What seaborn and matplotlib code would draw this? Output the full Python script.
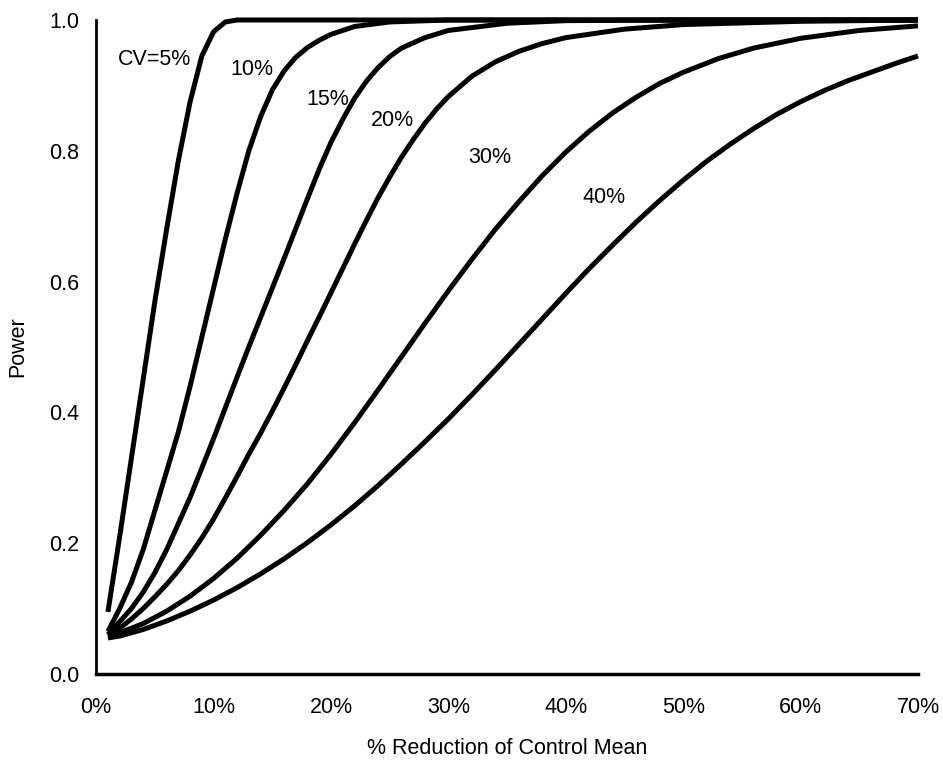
import pandas as pd
import numpy as np
import matplotlib
matplotlib.use("Agg")
import matplotlib.pyplot as plt
import seaborn as sns

# Power curves: x = % reduction of control mean
cv5_x = [1, 2, 3, 4, 5, 6, 7, 8, 9, 10, 11, 12, 15, 20, 30, 40, 50, 60, 70]
cv5_y = [0.095, 0.21, 0.33, 0.45, 0.57, 0.68, 0.785, 0.875, 0.945, 0.982, 0.997, 1.0,
         1.0, 1.0, 1.0, 1.0, 1.0, 1.0, 1.0]

cv10_x = [1, 2, 3, 4, 5, 6, 7, 8, 9, 10, 11, 12, 13, 14, 15, 16, 17, 18, 19, 20, 22, 25,
          30, 40, 50, 60, 70]
cv10_y = [0.065, 0.10, 0.14, 0.19, 0.25, 0.31, 0.37, 0.44, 0.515, 0.59, 0.665, 0.735,
          0.80, 0.852, 0.893, 0.922, 0.943, 0.958, 0.969, 0.978, 0.99, 0.997, 1.0, 1.0,
          1.0, 1.0, 1.0]

cv15_x = [1, 2, 3, 4, 5, 6, 7, 8, 9, 10, 11, 12, 13, 14, 15, 16, 17, 18, 19, 20, 21, 22,
          23, 24, 25, 26, 28, 30, 35, 40, 50, 60, 70]
cv15_y = [0.06, 0.08, 0.10, 0.125, 0.155, 0.19, 0.23, 0.27, 0.315, 0.36, 0.407, 0.454,
          0.5, 0.545, 0.59, 0.635, 0.681, 0.727, 0.772, 0.813, 0.848, 0.88, 0.906, 0.927,
          0.944, 0.957, 0.973, 0.984, 0.995, 0.999, 1.0, 1.0, 1.0]

cv20_x = [1, 2, 3, 4, 5, 6, 7, 8, 9, 10, 11, 12, 13, 14, 15, 16, 17, 18, 19, 20, 21, 22,
          23, 24, 25, 26, 27, 28, 29, 30, 32, 34, 36, 38, 40, 45, 50, 60, 70]
cv20_y = [0.06, 0.07, 0.084, 0.1, 0.118, 0.137, 0.158, 0.182, 0.208, 0.237, 0.269, 0.302,
          0.336, 0.368, 0.402, 0.437, 0.473, 0.51, 0.546, 0.583, 0.62, 0.657, 0.693, 0.728,
          0.76, 0.79, 0.817, 0.842, 0.864, 0.883, 0.914, 0.936, 0.952, 0.964, 0.973,
          0.986, 0.993, 0.998, 1.0]

cv30_x = [1, 2, 4, 6, 8, 10, 12, 14, 16, 18, 20, 22, 24, 26, 28, 30, 32, 34, 36, 38, 40,
          42, 44, 46, 48, 50, 53, 56, 60, 65, 70]
cv30_y = [0.058, 0.063, 0.077, 0.096, 0.119, 0.146, 0.177, 0.212, 0.25, 0.291, 0.336,
          0.384, 0.434, 0.485, 0.536, 0.586, 0.634, 0.68, 0.722, 0.762, 0.798, 0.83,
          0.858, 0.882, 0.903, 0.92, 0.941, 0.957, 0.972, 0.984, 0.991]

cv40_x = [1, 2, 4, 6, 8, 10, 12, 14, 16, 18, 20, 22, 24, 26, 28, 30, 32, 34, 36, 38, 40,
          42, 44, 46, 48, 50, 52, 54, 56, 58, 60, 62, 64, 66, 68, 70]
cv40_y = [0.055, 0.058, 0.068, 0.081, 0.096, 0.113, 0.132, 0.153, 0.176, 0.201, 0.228,
          0.257, 0.288, 0.321, 0.355, 0.39, 0.427, 0.465, 0.504, 0.543, 0.582, 0.62,
          0.656, 0.691, 0.724, 0.755, 0.784, 0.81, 0.834, 0.856, 0.875, 0.892, 0.907,
          0.92, 0.933, 0.945]

cv_names = ["5%", "10%", "15%", "20%", "30%", "40%"]
curve_x = [cv5_x, cv10_x, cv15_x, cv20_x, cv30_x, cv40_x]
curve_y = [cv5_y, cv10_y, cv15_y, cv20_y, cv30_y, cv40_y]

label_text = ["CV=5%", "10%", "15%", "20%", "30%", "40%"]
label_x = [5.0, 13.3, 19.7, 25.2, 33.5, 43.3]
label_y = [0.939, 0.924, 0.878, 0.847, 0.789, 0.728]

df = pd.concat(
    [pd.DataFrame({"reduction": x, "power": y, "cv": name})
     for name, x, y in zip(cv_names, curve_x, curve_y)],
    ignore_index=True,
)

sns.set_style("white")
plt.rcParams["font.family"] = ["Liberation Sans", "DejaVu Sans"]
plt.rcParams["text.color"] = "black"
plt.rcParams["axes.labelcolor"] = "black"
plt.rcParams["xtick.color"] = "black"
plt.rcParams["ytick.color"] = "black"

FS = 15.5

fig = plt.figure(figsize=(9.43, 7.60), dpi=100)
ax = fig.add_axes([0.102, 0.1132, 0.8715, 0.8605])

sns.lineplot(data=df, x="reduction", y="power", hue="cv", units="cv", estimator=None,
             palette=["black"] * len(cv_names), linewidth=3.6, legend=False, ax=ax,
             sort=False, solid_joinstyle="round", solid_capstyle="butt", clip_on=False)

for t, x, y in zip(label_text, label_x, label_y):
    ax.text(x, y, t, fontsize=FS, ha="center", va="center")

ax.set_xlim(0, 70)
ax.set_ylim(0, 1.0)
ax.set_xticks(range(0, 71, 10))
ax.set_xticklabels([f"{v}%" for v in range(0, 71, 10)])
ax.set_yticks(np.arange(0, 1.01, 0.2))
ax.set_yticklabels([f"{v:.1f}" for v in np.arange(0, 1.01, 0.2)])
ax.tick_params(axis="both", direction="inout", length=8.6, width=1, labelsize=FS)
ax.tick_params(axis="x", pad=12)
ax.tick_params(axis="y", pad=8)

for side in ["top", "right"]:
    ax.spines[side].set_visible(False)
ax.spines["bottom"].set_linewidth(2.5)
ax.spines["left"].set_linewidth(2)
ax.spines["bottom"].set_color("black")
ax.spines["left"].set_color("black")

ax.set_xlabel("% Reduction of Control Mean", fontsize=FS, labelpad=15)
ax.set_ylabel("Power", fontsize=FS, labelpad=15)
ax.grid(False)

fig.savefig("out.png", dpi=100)
plt.close(fig)
